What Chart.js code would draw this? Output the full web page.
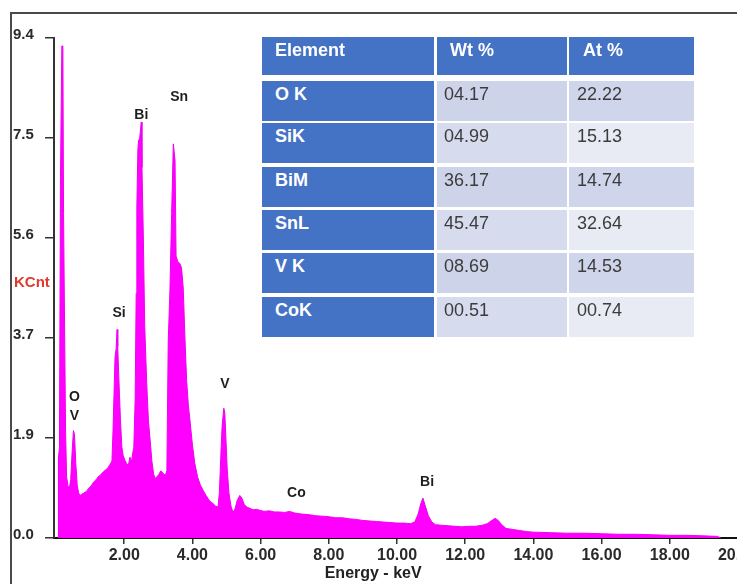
<!DOCTYPE html>
<html>
<head>
<meta charset="utf-8">
<script src="https://cdn.jsdelivr.net/npm/chart.js@4/dist/chart.umd.min.js"></script>
<style>
  html, body { margin: 0; padding: 0; background: #ffffff; overflow: hidden; width: 737px; height: 584px; }
  #wrap { position: absolute; left: 0; top: 0; width: 760px; height: 584px; }
  #frame { position: absolute; left: 10px; top: 12px; width: 760px; height: 600px;
           border-left: 2px solid #4a4a4a; border-top: 2px solid #4a4a4a; pointer-events: none; }
  .cell { position: absolute; box-sizing: border-box; font-family: "Liberation Sans", Arial, sans-serif;
          font-size: 18px; line-height: 20px; white-space: nowrap; }
  .head { background: #4472C4; color: #ffffff; font-weight: bold; }
  .first { background: #4472C4; color: #ffffff; font-weight: bold; }
  .val { color: #3c3c3c; }
</style>
</head>
<body>
<div id="wrap"><canvas id="c" width="760" height="584"></canvas></div>
<div id="frame"></div>
<div id="tbl"></div>
<script>
// ---------- data ----------
const energies = [0.06,0.07,0.10,0.13,0.17,0.20,0.22,0.25,0.28,0.31,0.35,0.39,0.43,0.47,0.51,0.54,0.58,0.62,0.66,0.70,
  0.75,0.80,0.85,0.90,0.95,1.00,1.05,1.10,1.15,1.20,1.25,1.30,1.35,1.40,1.45,1.50,1.55,1.60,1.64,1.67,
  1.70,1.73,1.76,1.79,1.81,1.83,1.86,1.89,1.93,1.97,2.02,2.07,2.12,2.17,2.21,2.25,2.28,2.32,2.35,2.37,
  2.40,2.42,2.45,2.50,2.52,2.56,2.60,2.66,2.71,2.76,2.81,2.86,2.90,2.96,3.02,3.07,3.11,3.16,3.21,3.25,
  3.29,3.34,3.39,3.44,3.49,3.52,3.57,3.63,3.68,3.73,3.78,3.83,3.88,3.93,4.00,4.07,4.15,4.23,4.31,4.40,
  4.50,4.60,4.68,4.75,4.79,4.83,4.87,4.92,4.95,4.98,5.02,5.07,5.13,5.19,5.25,5.31,5.39,5.45,5.52,5.60,
  5.68,5.78,5.88,5.98,6.10,6.25,6.40,6.55,6.70,6.85,7.00,7.20,7.40,7.60,7.80,8.00,8.20,8.40,8.60,8.80,
  9.00,9.20,9.40,9.60,9.80,10.00,10.20,10.40,10.52,10.62,10.70,10.76,10.83,10.92,11.02,11.13,11.30,11.50,11.70,11.90,
  12.10,12.30,12.50,12.65,12.78,12.88,12.97,13.07,13.20,13.40,13.60,13.80,14.00,14.50,15.00,15.50,16.00,16.50,17.00,17.50,
  18.00,18.50,19.00,19.40,19.50];
const counts = [0,1.50,1.70,6.80,9.25,9.25,6.10,4.00,2.00,1.15,0.98,0.93,1.10,1.60,2.02,1.95,1.40,1.00,0.85,0.80,
  0.82,0.84,0.86,0.88,0.93,0.96,1.00,1.05,1.08,1.12,1.16,1.18,1.22,1.25,1.28,1.30,1.35,1.40,1.45,2.00,
  2.70,3.40,3.55,3.92,3.60,3.21,2.70,2.20,1.71,1.55,1.46,1.40,1.37,1.52,1.42,1.60,1.70,2.59,4.60,6.22,
  7.30,7.48,7.50,7.82,6.97,5.66,4.00,2.90,2.20,1.84,1.45,1.21,1.12,1.15,1.20,1.26,1.24,1.20,1.18,1.27,
  3.70,4.65,6.10,7.41,7.10,5.30,5.20,5.16,5.08,4.70,3.77,2.96,2.50,2.20,1.75,1.40,1.15,1.00,0.90,0.80,
  0.70,0.65,0.60,0.58,0.85,1.50,2.10,2.44,2.35,1.90,1.30,0.85,0.60,0.48,0.55,0.70,0.80,0.75,0.63,0.58,
  0.56,0.53,0.54,0.52,0.50,0.51,0.49,0.49,0.48,0.50,0.47,0.45,0.44,0.42,0.41,0.40,0.38,0.38,0.36,0.35,
  0.33,0.32,0.31,0.30,0.29,0.28,0.28,0.27,0.30,0.45,0.65,0.75,0.60,0.42,0.30,0.25,0.24,0.23,0.22,0.21,
  0.22,0.22,0.24,0.27,0.33,0.37,0.33,0.25,0.18,0.16,0.14,0.12,0.11,0.10,0.09,0.09,0.08,0.07,0.07,0.06,
  0.05,0.05,0.04,0.03,0];

const xTickValues = [2,4,6,8,10,12,14,16,18,20];
const xTickLabels = ['2.00','4.00','6.00','8.00','10.00','12.00','14.00','16.00','18.00','20.00'];
const yTickValues = [0,1.88,3.76,5.64,7.52,9.4];
const yTickLabels = ['0.0','1.9','3.7','5.6','7.5','9.4'];

const peakNames = ['O','V','Si','Bi','Sn','V','Co','Bi'];
const peakNameE = [0.54,0.54,1.85,2.50,3.61,4.95,7.05,10.88];
const peakNameY = [2.64,2.30,4.22,7.95,8.29,2.89,0.84,1.05];

const xTitle = 'Energy - keV';
const yTitle = 'KCnt';

const tblHeader = ['Element','Wt %','At %'];
const tblElements = ['O K','SiK','BiM','SnL','V K','CoK'];
const tblWt = ['04.17','04.99','36.17','45.47','08.69','00.51'];
const tblAt = ['22.22','15.13','14.74','32.64','14.53','00.74'];

// ---------- table (HTML overlay) ----------
(function buildTable(){
  const tbl = document.getElementById('tbl');
  const colLeft = [262, 437, 569];
  const colW = [172, 130, 125];
  const padL = [13, 7, 8];
  const headPadL = [13, 13, 14];
  function add(cls, text, l, t, w, h, pl, pt, bg) {
    const d = document.createElement('div');
    d.className = 'cell ' + cls;
    d.textContent = text;
    d.style.left = l + 'px'; d.style.top = t + 'px';
    d.style.width = w + 'px'; d.style.height = h + 'px';
    d.style.paddingLeft = pl + 'px'; d.style.paddingTop = pt + 'px';
    if (bg) d.style.background = bg;
    tbl.appendChild(d);
  }
  tblHeader.forEach((h, i) => add('head', h, colLeft[i], 37, colW[i], 38, headPadL[i], 3));
  const rowTop = [81, 123, 167, 210, 253, 297];
  tblElements.forEach((e, r) => {
    const dark = (r % 2 === 0);
    add('first', e, colLeft[0], rowTop[r], colW[0], 40, padL[0], 3);
    add('val', tblWt[r], colLeft[1], rowTop[r], colW[1], 40, padL[1], 3, dark ? '#CDD4EA' : '#D6DBEE');
    add('val', tblAt[r], colLeft[2], rowTop[r], colW[2], 40, padL[2], 3, dark ? '#CFD5EA' : '#E8EAF4');
  });
})();

// ---------- chart ----------
const annot = {
  id: 'annot',
  afterDraw(chart) {
    const ctx = chart.ctx;
    const xs = chart.scales.x, ys = chart.scales.y;
    ctx.save();
    ctx.font = 'bold 14px "Liberation Sans", Arial, sans-serif';
    ctx.fillStyle = '#1e1e1e';
    ctx.textAlign = 'center';
    ctx.textBaseline = 'middle';
    peakNames.forEach((n, i) => {
      ctx.fillText(n, xs.getPixelForValue(peakNameE[i]), ys.getPixelForValue(peakNameY[i]));
    });
    // x-axis title
    ctx.font = 'bold 16px "Liberation Sans", Arial, sans-serif';
    ctx.fillStyle = '#222';
    ctx.fillText(xTitle, xs.getPixelForValue(9.3), 574);
    // y-axis title (horizontal, red)
    ctx.font = 'bold 15px "Liberation Sans", Arial, sans-serif';
    ctx.fillStyle = '#E03A2E';
    ctx.textAlign = 'left';
    ctx.fillText(yTitle, 14, ys.getPixelForValue(4.79));
    ctx.restore();
  }
};

new Chart(document.getElementById('c'), {
  type: 'line',
  data: {
    datasets: [{
      data: energies.map((e, i) => ({ x: e, y: counts[i] })),
      borderColor: '#F000F0',
      backgroundColor: '#FF00FF',
      borderWidth: 1,
      pointRadius: 0,
      fill: 'origin',
      tension: 0
    }]
  },
  options: {
    responsive: false,
    animation: false,
    layout: { padding: { left: 13, top: 38, right: 0, bottom: 0 } },
    plugins: { legend: { display: false }, tooltip: { enabled: false } },
    scales: {
      x: {
        type: 'linear',
        min: -0.06, max: 20,
        afterBuildTicks: (s) => { s.ticks = xTickValues.map(v => ({ value: v })); },
        afterFit: (s) => { s.height = 46; },
        ticks: {
          autoSkip: false, maxRotation: 0, padding: 2,
          color: '#2a2a2a',
          font: { family: '"Liberation Sans", Arial, sans-serif', size: 16, weight: 'bold' },
          callback: (v, i) => xTickLabels[i]
        },
        grid: { drawOnChartArea: false, tickLength: 6, color: '#333', lineWidth: 1.5 },
        border: { color: '#111', width: 2 }
      },
      y: {
        type: 'linear',
        min: 0, max: 9.4,
        afterBuildTicks: (s) => { s.ticks = yTickValues.map(v => ({ value: v })); },
        afterFit: (s) => { s.width = 41; },
        ticks: {
          autoSkip: false, crossAlign: 'far', labelOffset: -3,
          color: '#2a2a2a',
          font: { family: '"Liberation Sans", Arial, sans-serif', size: 15, weight: 'bold' },
          callback: (v, i) => yTickLabels[i]
        },
        grid: { drawOnChartArea: false, tickLength: 9, color: '#333', lineWidth: 1.5 },
        border: { color: '#333', width: 2 }
      }
    }
  },
  plugins: [annot]
});
</script>
</body>
</html>
